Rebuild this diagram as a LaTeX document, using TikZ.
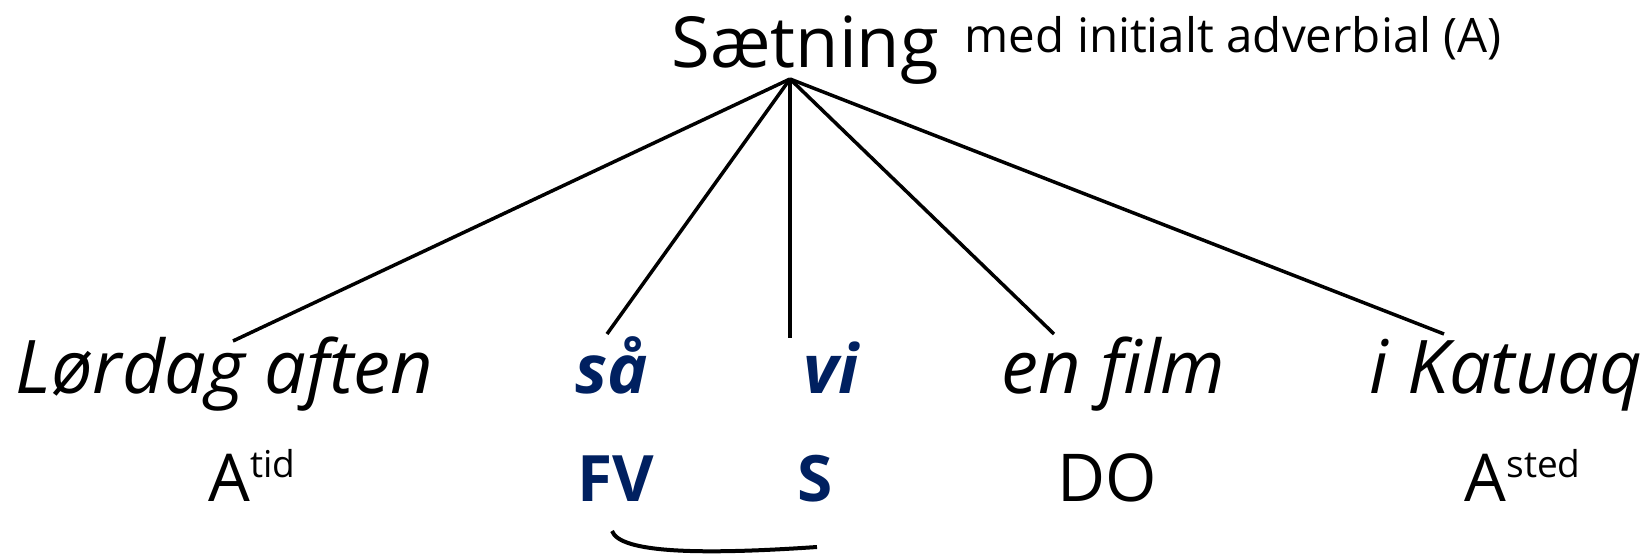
\documentclass[tikz,border=0pt]{standalone}
\usepackage{fontspec}
\setmainfont{Open Sans}
\definecolor{navy}{HTML}{002060}
\newcommand{\supx}[1]{\raisebox{24pt}{\fontsize{37}{40}\selectfont #1}}
\begin{document}
\begin{tikzpicture}[x=1pt,y=1pt,line width=3.5pt,
  lbl/.style={inner sep=0pt,anchor=base west},
  wordit/.style={lbl,font=\fontsize{74}{80}\selectfont\itshape},
  wordbf/.style={lbl,font=\fontsize{68}{75}\selectfont\bfseries\itshape,text=navy},
  func/.style={lbl,font=\fontsize{66}{70}\selectfont},
  funcbf/.style={lbl,font=\fontsize{64}{70}\selectfont\bfseries,text=navy}]
\useasboundingbox (0,0) rectangle (1647,557);
\node[lbl,font=\fontsize{70.5}{75}\selectfont] (root) at (670,489) {Sætning};
\node[lbl,font=\fontsize{47.5}{50}\selectfont] (note) at (963,504) {med initialt adverbial (A)};
\coordinate (top) at (790,478);
\node[wordit] (w1) at (14,163) {Lørdag aften};
\node[wordbf] (w2) at (574,163) {så};
\node[wordbf] (w3) at (802,163) {vi};
\node[wordit] (w4) at (1000,163) {en film};
\node[wordit] (w5) at (1368,163) {i Katuaq};
\node[func] (f1) at (207,55) {A\supx{tid}};
\node[funcbf] (f2) at (576,55) {FV};
\node[funcbf] (f3) at (796,55) {S};
\node[func] (f4) at (1056,55) {DO};
\node[func] (f5) at (1463,55) {A\supx{sted}};
\coordinate (e1) at (233,216);
\coordinate (e2) at (607,223);
\coordinate (e3) at (790,219);
\coordinate (e4) at (1054,223);
\coordinate (e5) at (1444,223);
\draw (top) -- (e1);
\draw (top) -- (e2);
\draw (top) -- (e3);
\draw (top) -- (e4);
\draw (top) -- (e5);
\coordinate (a1) at (612,26);
\coordinate (a2) at (817,10);
\draw[line width=4pt] (a1) .. controls (620,4) and (700,2) .. (a2);
\end{tikzpicture}
\end{document}
